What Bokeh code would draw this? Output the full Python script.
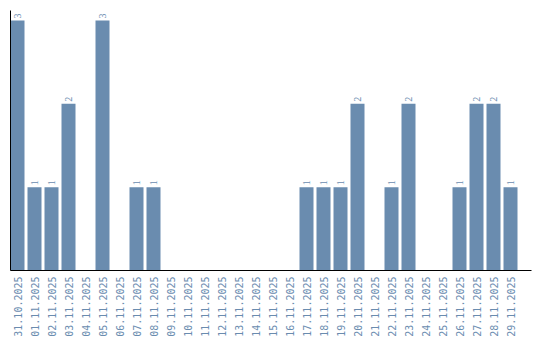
import math
from bokeh.plotting import figure
from bokeh.models import ColumnDataSource, FixedTicker, Range1d, LabelSet
from bokeh.embed import file_html
from bokeh.resources import INLINE

dates = ["31.10.2025", "01.11.2025", "02.11.2025", "03.11.2025", "04.11.2025",
         "05.11.2025", "06.11.2025", "07.11.2025", "08.11.2025", "09.11.2025",
         "10.11.2025", "11.11.2025", "12.11.2025", "13.11.2025", "14.11.2025",
         "15.11.2025", "16.11.2025", "17.11.2025", "18.11.2025", "19.11.2025",
         "20.11.2025", "21.11.2025", "22.11.2025", "23.11.2025", "24.11.2025",
         "25.11.2025", "26.11.2025", "27.11.2025", "28.11.2025", "29.11.2025"]
counts = [3, 1, 1, 2, 0, 3, 0, 1, 1, 0,
          0, 0, 0, 0, 0, 0, 0, 1, 1, 1,
          2, 0, 1, 2, 0, 0, 1, 2, 2, 1]

BAR = "#6a8caf"
xs = list(range(len(dates)))
src = ColumnDataSource(dict(x=xs, y=counts))
lab_src = ColumnDataSource(dict(x=[x for x, c in zip(xs, counts) if c > 0],
                                y=[c for c in counts if c > 0],
                                t=[str(c) for c in counts if c > 0]))

bw = 14 / 17
p = figure(width=540, height=340, output_backend="svg", toolbar_location=None,
           x_range=Range1d(-bw / 2, -bw / 2 + 521 / 17), y_range=Range1d(0, 3.12),
           min_border_left=10, min_border_right=9, min_border_top=10, min_border_bottom=70)
p.outline_line_color = None
p.grid.visible = False
p.background_fill_color = "white"
p.border_fill_color = "white"

p.vbar(x="x", top="y", width=bw, bottom=0, source=src, color=BAR, line_color=None)

labels = LabelSet(x="x", y="y", text="t", source=lab_src, angle=math.pi / 2,
                  x_offset=0, y_offset=2, text_align="left", text_baseline="middle",
                  text_font="DejaVu Sans Mono", text_font_size="10px", text_color=BAR)
p.add_layout(labels)

xa = p.xaxis[0]
xa.ticker = FixedTicker(ticks=xs)
xa.major_label_overrides = {i: d for i, d in enumerate(dates)}
xa.major_label_orientation = math.pi / 2
xa.major_tick_out = 0
xa.major_tick_in = 0
xa.minor_tick_out = 0
xa.minor_tick_in = 0
xa.major_label_standoff = 6
xa.major_label_text_font = "DejaVu Sans Mono"
xa.major_label_text_font_size = "10px"
xa.major_label_text_color = BAR
xa.axis_line_color = "black"

ya = p.yaxis[0]
ya.ticker = FixedTicker(ticks=[])
ya.major_tick_out = 0
ya.major_tick_in = 0
ya.minor_tick_out = 0
ya.minor_tick_in = 0
ya.major_label_standoff = 0
ya.axis_line_color = "black"

open("out.html", "w").write(file_html(p, INLINE))
